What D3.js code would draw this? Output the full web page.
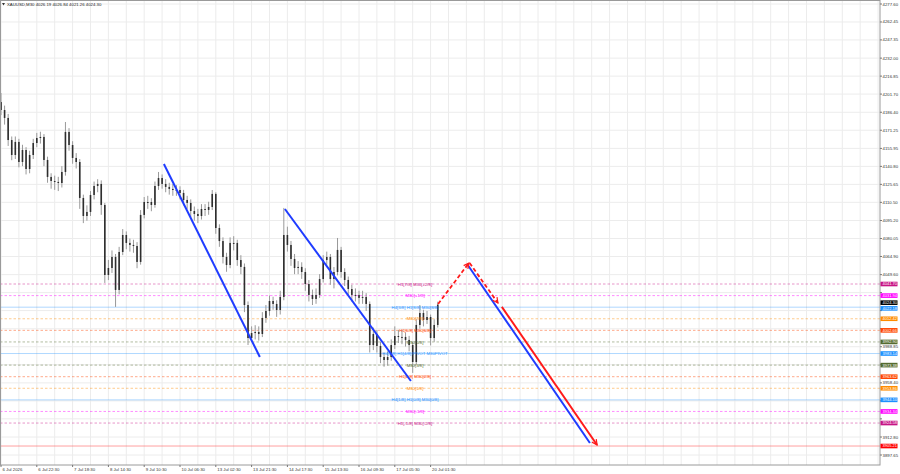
<!DOCTYPE html>
<html>
<head>
<meta charset="utf-8">
<script src="https://cdn.jsdelivr.net/npm/d3@7"></script>
<style>
  body { margin: 0; background: #fff; }
  svg { display: block; font-family: "Liberation Sans", Arial, sans-serif; }
</style>
</head>
<body>
<div id="chart"></div>
<script>
// XAUUSD M30, sampled every 2 hours (bar index = 2h step)
const firstOpen = 4195.0;
const closes = [
  4188.3,4181.6,4163.0,4150.4,4161.4,4144.5,4154.6,4138.6,4150.4,4160.5,
  4164.7,4165.6,4146.2,4131.9,4128.5,4127.7,4126.8,4136.1,4169.8,4158.8,
  4147.9,4144.5,4114.2,4099.0,4102.4,4116.7,4124.3,4126.0,4108.3,4049.3,
  4055.2,4064.5,4036.7,4068.7,4083.0,4076.3,4074.6,4073.7,4060.3,4099.9,
  4110.8,4110.8,4108.3,4124.3,4131.0,4126.0,4123.5,4121.8,4120.9,4120.9,
  4118.4,4112.5,4110.0,4103.2,4100.7,4099.0,4104.9,4104.1,4106.6,4117.6,
  4088.9,4077.9,4064.5,4057.7,4076.3,4076.3,4061.9,4056.1,4024.0,3996.2,
  4000.4,4001.3,3999.6,4013.1,4019.0,4027.4,4024.9,4019.8,4030.8,4083.0,
  4074.6,4062.8,4055.2,4056.1,4051.8,4041.7,4032.5,4029.1,4032.5,4045.9,
  4061.9,4064.5,4045.9,4051.8,4070.4,4051.8,4045.1,4037.5,4032.5,4032.5,
  4030.0,4030.8,4024.9,3990.3,3999.6,3989.5,3980.2,3977.7,3980.2,3990.3,
  3997.9,3997.1,3997.1,3994.6,3990.3,3976.0,4007.2,4017.3,4011.4,4013.9,
  3996.2,4007.2,4024.3
];
const highs = [
  4202.6,4192,4185,4166,4166,4164,4159,4157,4154,4164,
  4169,4170,4168,4149,4135,4133,4132,4141,4178.2,4173,
  4162,4152,4147,4117,4108,4120,4128,4130,4129,4110,
  4062,4070,4067,4073,4088,4086,4080,4079,4077,4104,
  4115,4116,4114,4128,4136.1,4134,4130,4127,4126,4125,
  4124,4121,4116,4113,4107,4105,4109,4109,4111,4120.9,
  4119,4092,4081,4068,4081,4082,4079,4066,4059,4027,
  4006,4007,4006,4018,4024,4032,4031,4028,4036,4105.8,
  4090,4078,4067,4061,4060,4055,4045,4037,4038,4050,
  4066,4069,4067,4056,4080.5,4073,4055,4048,4041,4038,
  4036,4036,4034,4027,4005,4003,3993,3984,3985,3995,
  4006,4003,4003,4001,3998,3993,4012,4024,4020,4019,
  4016,4012,4026.8
];
const lows = [
  4184,4176,4158,4146,4147,4140,4141,4134,4135,4147,
  4157,4160,4141,4127,4122,4121,4120,4123,4133,4154,
  4143,4139,4105,4093,4095,4099,4113,4119,4100,4042.6,
  4045,4051,4022.4,4033,4066,4071,4069,4068,4055,4058,
  4097,4105,4103,4106,4121,4122,4119,4117,4116,4116,
  4113,4108,4105,4098,4095,4093,4096,4099,4100,4104,
  4084,4073,4059,4052,4055,4070,4057,4050,4018,3990.3,
  3993,3995,3994,3997,4009,4015,4020,4014,4016,4028,
  4069,4057,4050,4050,4046,4036,4027,4024,4025,4030,
  4043,4058,4041,4038,4049,4047,4040,4032,4027,4027,
  4025,4025,4019,3984,3986,3984,3975,3972,3973,3977,
  3987,3992,3991,3989,3985,3966.8,3974,4004,4006,4008,
  3990,3993,4005
];

const dateLabels = ["6 Jul 2026","6 Jul 22:30","7 Jul 18:30","8 Jul 14:30","9 Jul 10:30",
  "10 Jul 06:30","13 Jul 02:30","13 Jul 21:30","14 Jul 17:30","15 Jul 13:30",
  "16 Jul 09:30","17 Jul 05:30","20 Jul 01:30"];
const priceTicks = [4277.60,4262.45,4247.35,4232.00,4216.85,4201.70,4186.40,4171.25,4155.95,
  4140.80,4125.65,4110.50,4095.20,4080.05,4064.90,4049.60,4034.45,4019.30,4004.00,
  3988.85,3973.70,3958.40,3943.25,3928.10,3912.80,3897.65];

const levelNames = ["H1[7/8] M30[+2/8]","M30[+1/8]","H4[3/8] H1[8/8] M30[8/8]","M30[7/8]",
  "H1[6/8] M30[6/8]","M30[5/8]","H4[2/8] H1[4/8] PIVOT M30PIVOT","M30[3/8]",
  "H1[2/8] M30[2/8]","M30[1/8]","H4[1/8] H1[0/8] M30[0/8]","M30[-1/8]","H1[-1/8] M30[-2/8]"];
const levelPrices = [4041.70,4031.94,4022.18,4012.42,4002.66,3992.90,3983.14,
  3973.38,3963.62,3953.86,3944.10,3934.34,3924.58];

const bidPrice = 4024.30;
const targetPrice = 3905.21;

// drawn objects: [bar index, price]
const blueTrend1 = [[45.5, 4142.8], [72.3, 3980.2]];
const blueTrend2 = [[79.3, 4104.9], [114.5, 3960.0]];
const redDashUp = [[122.1, 4024.9], [130.7, 4059.4]];
const redDashDown = [[130.9, 4059.4], [138.8, 4025.7]];
const blueTarget = [[130.2, 4058.6], [164.5, 3907.8]];
const redTarget = [[139.9, 4022.4], [166.5, 3906.1]];

// styles
const levelColors = ["#c71585","#ff00ff","#1e90ff","#ff8c00","#ff4500","#556b2f","#1e90ff",
  "#556b2f","#ff4500","#ff8c00","#1e90ff","#ff00ff","#c71585"];
const width = 900, height = 474, plotR = 880, plotB = 465;
const fs = 4.3;

const x = d3.scaleLinear().domain([0, (plotR - 1) / 3.58]).range([1, plotR]);
const y = d3.scaleLinear().domain([3897.65, 4277.6]).range([455, 4]);

const svg = d3.select("#chart").append("svg")
  .attr("width", width).attr("height", height);

svg.append("rect").attr("width", width).attr("height", height).attr("fill", "#fff");

const defs = svg.append("defs");
defs.append("clipPath").attr("id", "plot")
  .append("rect").attr("x", 0).attr("y", 0).attr("width", plotR).attr("height", plotB);
defs.append("marker").attr("id", "arrRed")
  .attr("viewBox", "0 0 8 8").attr("refX", 7).attr("refY", 4)
  .attr("markerWidth", 7).attr("markerHeight", 7).attr("markerUnits", "userSpaceOnUse")
  .attr("orient", "auto")
  .append("path").attr("d", "M1,1 L7,4 L1,7").attr("fill", "none")
  .attr("stroke", "#ff1a1a").attr("stroke-width", 1.4);

// grid
const grid = svg.append("g").attr("clip-path", "url(#plot)");
grid.selectAll("line.v").data(d3.range(0, x.domain()[1], 5)).join("line")
  .attr("x1", d => x(d)).attr("x2", d => x(d)).attr("y1", 0).attr("y2", plotB)
  .attr("stroke", "#ececec").attr("stroke-width", 1);
grid.selectAll("line.h").data(priceTicks).join("line")
  .attr("x1", 0).attr("x2", plotR).attr("y1", d => y(d)).attr("y2", d => y(d))
  .attr("stroke", "#ececec").attr("stroke-width", 1);

// level lines
const lv = svg.append("g").attr("clip-path", "url(#plot)");
lv.selectAll("line").data(levelPrices).join("line")
  .attr("x1", 0).attr("x2", plotR)
  .attr("y1", d => y(d)).attr("y2", d => y(d))
  .attr("stroke", (d, i) => levelColors[i])
  .attr("stroke-opacity", (d, i) => levelColors[i] === "#1e90ff" ? 0.35 : 0.45)
  .attr("stroke-dasharray", (d, i) => levelColors[i] === "#1e90ff" ? null : "2.5,2")
  .attr("stroke-width", 1);
lv.append("line")
  .attr("x1", 0).attr("x2", plotR).attr("y1", y(targetPrice)).attr("y2", y(targetPrice))
  .attr("stroke", "#ff6060").attr("stroke-opacity", 0.6).attr("stroke-width", 1);

// candles
const bars = closes.map((c, i) => ({
  i, o: i ? closes[i - 1] : firstOpen, h: highs[i], l: lows[i], c
}));
const cg = svg.append("g").attr("clip-path", "url(#plot)");
cg.selectAll("line").data(bars).join("line")
  .attr("x1", d => x(d.i)).attr("x2", d => x(d.i))
  .attr("y1", d => y(d.h)).attr("y2", d => y(d.l))
  .attr("stroke", "#999").attr("stroke-width", 1);
cg.selectAll("rect").data(bars).join("rect")
  .attr("x", d => x(d.i) - 0.8).attr("width", 1.6)
  .attr("y", d => y(Math.max(d.o, d.c)))
  .attr("height", d => Math.max(1, Math.abs(y(d.o) - y(d.c))))
  .attr("fill", "#2e2e2e");

// level text in chart
svg.append("g").selectAll("text").data(levelPrices).join("text")
  .attr("x", 415).attr("y", d => y(d) + 1.6)
  .attr("text-anchor", "middle").attr("font-size", fs)
  .attr("fill", (d, i) => levelColors[i])
  .text((d, i) => levelNames[i]);

// drawn lines
const line = d3.line().x(d => x(d[0])).y(d => y(d[1]));
const dg = svg.append("g").attr("clip-path", "url(#plot)");
[blueTrend1, blueTrend2, blueTarget].forEach(p => {
  dg.append("path").attr("d", line(p)).attr("fill", "none")
    .attr("stroke", "#1f3cff").attr("stroke-width", 2);
});
[redDashUp, redDashDown].forEach(p => {
  dg.append("path").attr("d", line(p)).attr("fill", "none")
    .attr("stroke", "#ff1a1a").attr("stroke-width", 1.8)
    .attr("stroke-dasharray", "4,2.5").attr("marker-end", "url(#arrRed)");
});
dg.append("path").attr("d", line(redTarget)).attr("fill", "none")
  .attr("stroke", "#ff1a1a").attr("stroke-width", 2).attr("marker-end", "url(#arrRed)");

// frame
svg.append("rect").attr("x", 0.5).attr("y", 0.5).attr("width", plotR - 0.5).attr("height", plotB - 0.5)
  .attr("fill", "none").attr("stroke", "#9a9a9a").attr("stroke-width", 1);

// right price axis
const tags = levelPrices.map((p, i) => ({ p, color: levelColors[i], dy: i === 2 ? 1.2 : 0 }))
  .concat([{ p: bidPrice, color: "#000", dy: -2 }, { p: targetPrice, color: "#ff0000", dy: 0 }]);
const shownTicks = priceTicks.filter(t => !tags.some(g => Math.abs(y(g.p) - y(t)) < 4.5));
const ax = svg.append("g");
ax.selectAll("line").data(priceTicks).join("line")
  .attr("x1", plotR).attr("x2", plotR + 2).attr("y1", d => y(d)).attr("y2", d => y(d))
  .attr("stroke", "#777");
ax.selectAll("text").data(shownTicks).join("text")
  .attr("x", plotR + 2.5).attr("y", d => y(d) + 1.5)
  .attr("font-size", fs).attr("fill", "#333")
  .text(d => d.toFixed(2));
const tg = ax.selectAll("g.tag").data(tags).join("g");
tg.append("rect").attr("x", plotR + 0.5).attr("y", d => y(d.p) + d.dy - 2.3)
  .attr("width", 17).attr("height", 4.6).attr("fill", d => d.color);
tg.append("text").attr("x", plotR + 2.5).attr("y", d => y(d.p) + d.dy + 1.4)
  .attr("font-size", 4).attr("fill", "#fff").text(d => d.p.toFixed(2));

// bottom time axis
const tx = svg.append("g");
tx.selectAll("line").data(dateLabels).join("line")
  .attr("x1", (d, i) => x(i * 10)).attr("x2", (d, i) => x(i * 10))
  .attr("y1", plotB).attr("y2", plotB + 2).attr("stroke", "#777");
tx.selectAll("text").data(dateLabels).join("text")
  .attr("x", (d, i) => x(i * 10) + 1.5).attr("y", plotB + 5.5)
  .attr("font-size", fs).attr("fill", "#333").text(d => d);

// title
svg.append("path").attr("d", "M2,3 L5,3 L3.5,5.5 Z").attr("fill", "#333");
svg.append("text").attr("x", 7).attr("y", 5.6).attr("font-size", fs).attr("fill", "#222")
  .text("XAUUSD,M30  4026.19 4026.84 4021.26 4024.30");
</script>
</body>
</html>
